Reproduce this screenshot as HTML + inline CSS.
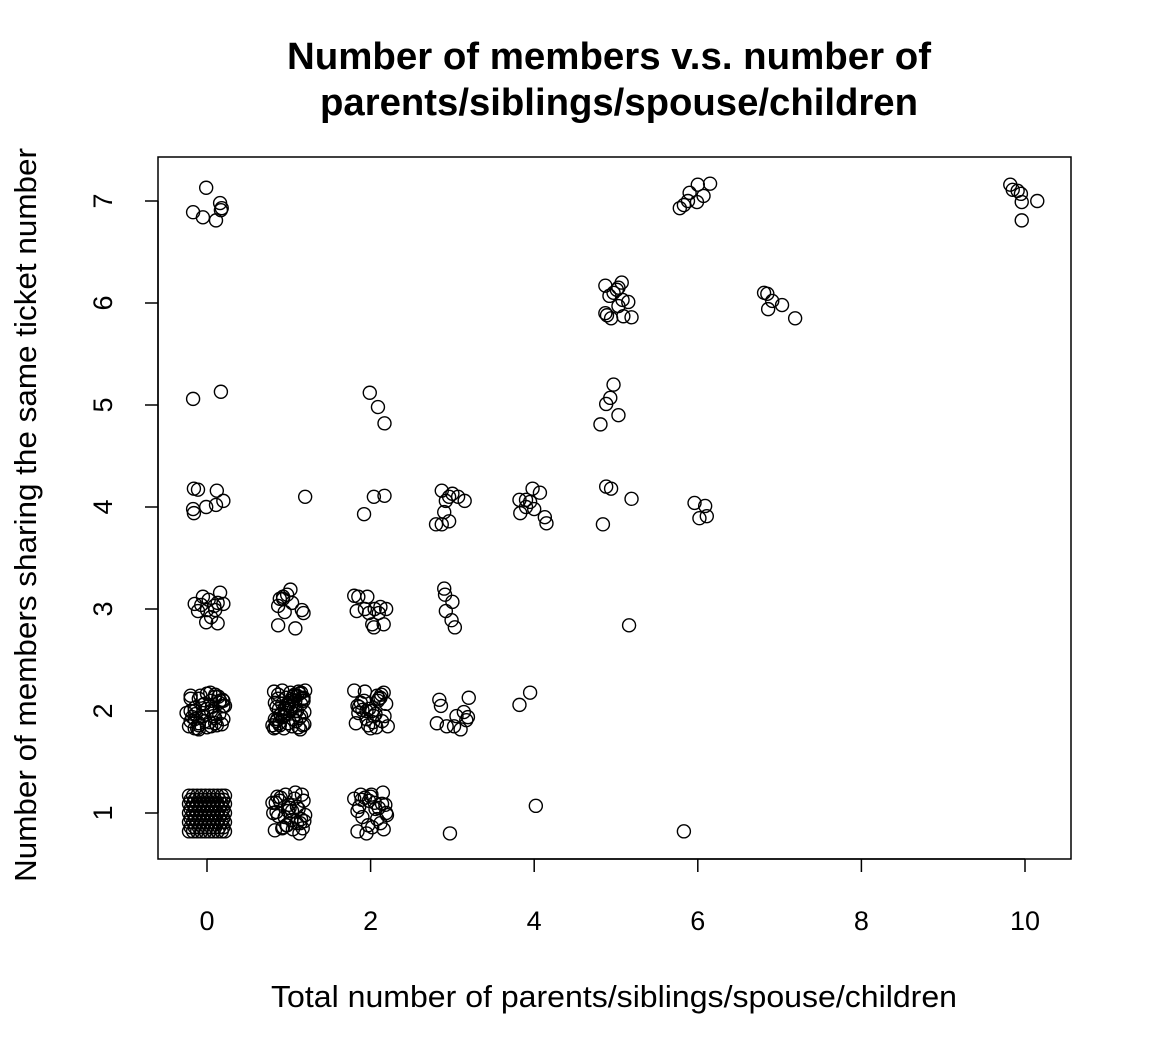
<!DOCTYPE html>
<html><head><meta charset="utf-8"><style>
body{margin:0;background:#fff}
svg text{font-family:"Liberation Sans",Arial,sans-serif;fill:#000}
</style></head><body>
<svg id="chart" width="1152" height="1056" viewBox="0 0 1152 1056" xmlns="http://www.w3.org/2000/svg">
<rect width="1152" height="1056" fill="#fff"/>
<text x="609" y="69" font-size="38" font-weight="bold" text-anchor="middle" textLength="644" lengthAdjust="spacingAndGlyphs">Number of members v.s. number of</text>
<text x="619" y="115" font-size="38" font-weight="bold" text-anchor="middle" textLength="598" lengthAdjust="spacingAndGlyphs">parents/siblings/spouse/children</text>
<rect x="158" y="157" width="913" height="702" fill="none" stroke="#000" stroke-width="1.5"/>
<g id="xaxis"></g>
<g id="yaxis"></g>
<g id="points"></g>
<text x="614" y="1007" font-size="31" text-anchor="middle" textLength="686" lengthAdjust="spacingAndGlyphs">Total number of parents/siblings/spouse/children</text>
<text transform="translate(36,515) rotate(-90)" font-size="31" text-anchor="middle" textLength="734" lengthAdjust="spacingAndGlyphs">Number of members sharing the same ticket number</text>
</svg>
<script>
const xTicks=[0,2,4,6,8,10];
const yTicks=[1,2,3,4,5,6,7];
const xVals=[
-0.17,-0.01,-0.05,0.11,0.16,0.18,0.17,
5.78,5.83,5.88,5.9,6.0,6.07,6.15,5.99,
9.82,9.85,9.91,9.95,9.96,9.96,10.15,
4.87,4.92,4.97,5.03,5.07,4.89,4.94,4.87,5.08,5.15,5.19,5.09,5.03,5.01,
6.81,6.85,6.91,7.03,6.86,7.19,
-0.17,0.17,1.99,2.09,2.17,4.97,4.93,4.88,5.03,4.81,
-0.16,-0.11,-0.17,-0.16,-0.01,0.12,0.11,0.2,1.2,1.92,2.04,2.17,
2.87,2.96,2.92,3.0,3.07,3.15,2.8,2.87,2.96,2.9,
3.9,3.83,3.98,3.9,4.07,3.95,4.0,4.13,4.15,3.82,4.88,4.94,5.19,4.84,5.96,6.02,6.09,6.11,
5.16,
-0.15,-0.05,0.02,-0.01,0.05,0.09,0.13,0.16,0.2,0.13,-0.07,-0.11,0.1,0.0,
0.87,0.93,0.98,1.02,0.93,1.04,1.08,1.16,1.18,0.87,0.95,0.89,
1.8,1.85,1.93,1.98,2.05,2.12,2.19,2.02,2.04,2.1,2.16,1.83,1.96,
2.9,2.91,2.99,3.0,3.03,2.92,
-0.25,-0.2,-0.15,-0.1,-0.05,0.0,0.05,0.1,0.15,0.2,-0.22,-0.12,-0.02,0.08,0.18,-0.2,-0.08,0.04,0.14,-0.15,-0.05,0.06,0.16,-0.18,0.0,0.12,0.22,-0.1,0.1,-0.03,0.19,-0.14,0.03,
-0.2,-0.1,0.0,0.1,0.2,-0.15,-0.05,0.05,0.15,-0.2,-0.1,0.0,0.1,0.2,-0.15,0.05,
0.8,0.86,0.9,0.95,1.0,1.05,1.1,1.15,1.2,0.82,0.88,0.93,0.98,1.03,1.08,1.13,1.18,0.85,0.9,1.0,1.1,1.17,0.83,0.95,1.05,1.15,0.92,1.02,1.12,0.87,1.07,1.19,
0.82,0.87,0.92,0.97,1.02,1.07,1.12,1.17,0.84,0.89,0.94,0.99,1.04,1.09,1.14,1.19,0.83,0.88,0.93,0.98,1.03,1.08,1.13,1.18,0.85,0.95,1.05,1.15,
1.8,1.86,1.92,1.98,2.04,2.1,2.16,2.21,1.82,1.88,1.95,2.02,2.08,2.14,2.19,1.85,1.93,2.0,2.06,2.12,1.84,1.97,2.09,2.17,1.9,2.03,2.13,1.95,2.07,
2.84,2.86,2.81,2.93,3.02,3.1,3.2,3.14,3.17,3.19,3.05,
3.82,3.95,
-0.22,-0.17,-0.12,-0.07,-0.02,0.03,0.08,0.13,0.18,0.22,
-0.22,-0.17,-0.12,-0.07,-0.02,0.03,0.08,0.13,0.18,0.22,
-0.22,-0.17,-0.12,-0.07,-0.02,0.03,0.08,0.13,0.18,0.22,
-0.22,-0.17,-0.12,-0.07,-0.02,0.03,0.08,0.13,0.18,0.22,
-0.22,-0.17,-0.12,-0.07,-0.02,0.03,0.08,0.13,0.18,0.22,
-0.2,-0.15,-0.1,-0.05,0.0,0.05,0.1,0.15,0.2,
-0.2,-0.15,-0.1,-0.05,0.0,0.05,0.1,0.15,0.2,
-0.2,-0.15,-0.1,-0.05,0.0,0.05,0.1,0.15,0.2,
-0.2,-0.15,-0.1,-0.05,0.0,0.05,0.1,0.15,0.2,
0.8,0.86,0.92,0.98,1.04,1.1,1.16,1.2,0.83,0.89,0.95,1.01,1.07,1.13,1.19,0.85,0.93,1.0,1.08,1.15,0.81,0.9,0.97,1.05,1.12,1.18,0.87,0.96,1.03,1.1,1.17,0.84,0.99,1.14,
1.8,1.84,1.88,1.95,2.0,2.05,2.1,2.15,2.18,2.2,2.12,2.06,2.02,1.98,1.9,1.84,2.16,2.08,1.93,1.86,2.19,2.01,1.97,2.14,1.89,
2.97,4.02,5.83
];
const yVals=[
6.89,7.13,6.84,6.81,6.98,6.93,6.91,
6.93,6.96,7.0,7.08,7.16,7.05,7.17,6.99,
7.16,7.11,7.1,7.07,6.99,6.81,7.0,
6.17,6.07,6.1,6.15,6.2,5.88,5.85,5.9,6.03,6.01,5.86,5.87,5.97,6.13,
6.1,6.09,6.02,5.98,5.94,5.85,
5.06,5.13,5.12,4.98,4.82,5.2,5.07,5.01,4.9,4.81,
4.18,4.17,3.98,3.94,4.0,4.16,4.02,4.06,4.1,3.93,4.1,4.11,
4.16,4.1,4.06,4.13,4.1,4.06,3.83,3.83,3.86,3.95,
4.07,3.94,4.18,4.0,4.14,4.05,3.98,3.9,3.84,4.07,4.2,4.18,4.08,3.83,4.04,3.89,4.01,3.91,
2.84,
3.05,3.12,3.09,2.87,2.92,3.03,3.06,3.16,3.05,2.86,3.04,2.98,2.99,2.99,
3.03,3.1,3.14,3.19,3.12,3.06,2.81,2.99,2.96,2.84,2.97,3.1,
3.13,3.12,3.0,2.96,3.0,3.02,3.0,2.85,2.82,2.96,2.85,2.98,3.12,
3.2,3.14,2.89,3.07,2.82,2.98,
1.98,2.0,1.92,1.88,1.95,2.02,2.1,2.16,2.08,2.05,1.85,1.83,1.9,1.95,1.87,2.12,2.15,2.18,2.14,2.0,1.98,2.04,2.1,1.94,2.17,1.86,2.05,1.82,1.93,2.07,2.11,1.97,1.89,
2.15,2.12,2.17,2.14,2.1,2.03,2.06,2.0,1.97,1.9,1.86,1.84,1.88,1.92,1.83,1.85,
1.86,1.92,1.96,2.02,2.06,2.11,2.15,2.18,2.2,1.83,1.88,1.94,2.0,2.05,2.1,2.17,2.13,1.9,1.97,2.08,2.0,1.86,1.92,2.03,2.14,1.95,2.07,2.01,1.84,2.12,2.16,1.99,
2.19,2.16,2.2,2.13,2.18,2.15,2.19,2.12,1.84,1.86,1.83,1.88,1.85,1.9,1.82,1.87,2.08,2.02,1.95,1.98,2.05,2.0,1.93,2.1,2.04,1.96,1.92,2.07,
2.2,2.04,2.1,2.02,1.95,2.12,2.18,1.85,1.88,2.08,1.92,2.0,2.15,1.9,2.07,1.98,2.19,1.83,1.97,2.13,2.05,1.86,2.1,1.95,2.01,1.89,2.16,2.0,1.84,
2.11,2.05,1.88,1.85,1.85,1.82,2.13,1.99,1.91,1.94,1.95,
2.06,2.18,
0.82,0.82,0.82,0.82,0.82,0.82,0.82,0.82,0.82,0.82,
0.91,0.91,0.91,0.91,0.91,0.91,0.91,0.91,0.91,0.91,
1.0,1.0,1.0,1.0,1.0,1.0,1.0,1.0,1.0,1.0,
1.09,1.09,1.09,1.09,1.09,1.09,1.09,1.09,1.09,1.09,
1.17,1.17,1.17,1.17,1.17,1.17,1.17,1.17,1.17,1.17,
0.86,0.86,0.86,0.86,0.86,0.86,0.86,0.86,0.86,
0.95,0.95,0.95,0.95,0.95,0.95,0.95,0.95,0.95,
1.04,1.04,1.04,1.04,1.04,1.04,1.04,1.04,1.04,
1.13,1.13,1.13,1.13,1.13,1.13,1.13,1.13,1.13,
1.1,1.16,0.85,0.88,1.02,0.9,1.18,0.98,0.83,1.12,0.96,1.05,1.14,0.8,0.92,1.01,0.86,1.08,1.2,0.94,1.0,1.15,0.88,0.84,1.04,1.12,0.97,1.18,0.93,1.06,0.85,1.1,1.02,0.9,
1.14,0.82,1.18,0.8,1.16,1.1,1.05,1.2,1.08,0.98,0.9,1.04,0.86,1.12,0.96,1.02,0.84,0.94,1.15,1.06,1.0,1.18,0.88,1.09,1.13,
0.8,1.07,0.82
];
const X0=207,XS=81.8,Y0=813,YS=102;
function sx(v){return X0+v*XS;}
function sy(v){return Y0-(v-1)*YS;}
const NS="http://www.w3.org/2000/svg";
const xa=document.getElementById('xaxis');
let l=document.createElementNS(NS,'line');
l.setAttribute('x1',sx(0));l.setAttribute('x2',sx(10));l.setAttribute('y1',859);l.setAttribute('y2',859);l.setAttribute('stroke','#000');l.setAttribute('stroke-width','1.5');


xa.appendChild(l);
xTicks.forEach(t=>{
 const tk=document.createElementNS(NS,'line');
 tk.setAttribute('x1',sx(t));tk.setAttribute('x2',sx(t));tk.setAttribute('y1',859);tk.setAttribute('y2',872);tk.setAttribute('stroke','#000');tk.setAttribute('stroke-width','1.5');
 
 
 xa.appendChild(tk);
 const tx=document.createElementNS(NS,'text');
 tx.setAttribute('x',sx(t));tx.setAttribute('y',930);tx.setAttribute('font-size','27');tx.setAttribute('text-anchor','middle');tx.textContent=t;
 
 
 xa.appendChild(tx);
});
const ya=document.getElementById('yaxis');
l=document.createElementNS(NS,'line');
l.setAttribute('x1',158);l.setAttribute('x2',158);l.setAttribute('y1',sy(1));l.setAttribute('y2',sy(7));l.setAttribute('stroke','#000');l.setAttribute('stroke-width','1.5');


ya.appendChild(l);
yTicks.forEach(t=>{
 const tk=document.createElementNS(NS,'line');
 tk.setAttribute('x1',145);tk.setAttribute('x2',158);tk.setAttribute('y1',sy(t));tk.setAttribute('y2',sy(t));tk.setAttribute('stroke','#000');tk.setAttribute('stroke-width','1.5');
 
 
 ya.appendChild(tk);
 const tx=document.createElementNS(NS,'text');
 tx.setAttribute('transform','translate(112,'+sy(t)+') rotate(-90)');tx.setAttribute('font-size','27');tx.setAttribute('text-anchor','middle');tx.textContent=t;
 
 
 ya.appendChild(tx);
});
const pg=document.getElementById('points');
const n=Math.min(xVals.length,yVals.length);
for(let i=0;i<n;i++){
 const c=document.createElementNS(NS,'circle');
 c.setAttribute('cx',sx(xVals[i]));c.setAttribute('cy',sy(yVals[i]));c.setAttribute('r',6.5);
 c.setAttribute('fill','none');c.setAttribute('stroke','#000');c.setAttribute('stroke-width','1.4');
 
 
 pg.appendChild(c);
}
</script>
</body></html>
